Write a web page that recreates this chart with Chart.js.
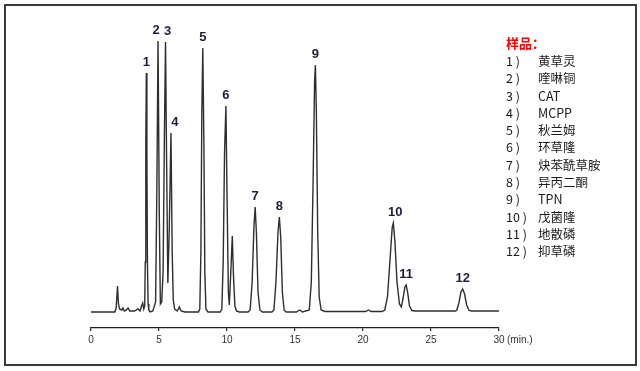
<!DOCTYPE html>
<html>
<head>
<meta charset="utf-8">
<script src="https://cdn.jsdelivr.net/npm/chart.js@4/dist/chart.umd.min.js"></script>
<style>
	body { margin: 0; background: #fff; }
	#wrap { position: relative; width: 640px; height: 371px; overflow: hidden; }
	#frame { position: absolute; left: 4px; top: 4px; width: 629px; height: 358px; border: 2px solid #3a3a3a; }
	#chart { position: absolute; left: 0; top: 0; }
	#samples { position: absolute; left: 506px; top: 33px; font-family: "Noto Sans CJK SC", sans-serif; font-size: 12.5px; color: #1a1a1a; }
	#samples .title { color: #f00; font-weight: bold; font-size: 13px; height: 19px; }
	#samples .row { position: relative; height: 17.3px; line-height: 17px; }
	#samples .name { position: absolute; left: 32px; top: 0; white-space: nowrap; }
</style>
</head>
<body>
<div id="wrap">
	<div id="frame"></div>
	<canvas id="chart" width="640" height="371"></canvas>
	<div id="samples"></div>
</div>
<script>
//保留时间 (min) 和 信号
const times = [0, 1.75, 1.85, 1.95, 2.02, 2.1, 2.25, 2.35, 2.45, 2.6, 2.72, 2.85, 3.2, 3.45, 3.6, 3.72, 3.8, 3.88, 3.95,
	3.99, 4.03, 4.07, 4.11, 4.15, 4.2, 4.25, 4.35, 4.55,
	4.75, 4.84, 4.93, 5.02, 5.1, 5.2,
	5.3, 5.4, 5.48, 5.56, 5.65,
	5.75, 5.88, 5.97, 6.05, 6.15, 6.35, 6.5, 6.62, 6.9, 7.9,
	8.0, 8.08, 8.15, 8.22, 8.3, 8.37, 8.45, 8.6, 9.5,
	9.62, 9.72, 9.82, 9.92, 10.0, 10.1, 10.17,
	10.28, 10.39, 10.48, 10.58, 10.7, 10.9, 11.55,
	11.7, 11.85, 11.98, 12.07, 12.16, 12.28, 12.42, 12.6, 13.3,
	13.45, 13.6, 13.75, 13.85, 13.95, 14.07, 14.2, 14.35, 15.1, 15.35, 15.55,
	16.05, 16.2, 16.33, 16.44, 16.5, 16.57, 16.67, 16.78, 16.92, 17.2, 20.2, 20.4, 20.6, 21.4,
	21.6, 21.8, 22.0, 22.15, 22.23, 22.35, 22.5, 22.68, 22.82,
	22.95, 23.08, 23.17, 23.28, 23.42, 23.6, 23.8, 26.8,
	26.9, 27.05, 27.2, 27.33, 27.47, 27.62, 27.8, 28.0, 30.0]
const signal = [0, 0, 4, 26, 8, 3, 2, 4, 1, 2, 4, 1, 1, 3, 1, 6, 9, 3, 6,
	50, 170, 239, 160, 50, 8, 2, 0, 1,
	10, 120, 271, 100, 8, 10,
	40, 180, 270, 150, 29,
	80, 179, 60, 12, 3, 1, 5, 1, 0, 0,
	3, 60, 200, 264, 170, 40, 3, 0, 0,
	3, 50, 160, 206, 120, 20, 7,
	40, 76, 35, 6, 1, 0, 0,
	2, 30, 85, 105, 80, 20, 2, 0, 0,
	2, 30, 80, 95, 75, 20, 2, 0, 0, 2, 0,
	2, 30, 130, 230, 247, 200, 80, 15, 2, 0.5, 0.5, 2, 0.5, 0.5,
	2, 15, 55, 85, 89, 70, 30, 8, 5,
	14, 25, 27, 20, 6, 1.5, 1, 1,
	2, 9, 20, 23, 18, 7, 1.5, 1, 1]

//峰号
const peakNames = ["1", "2", "3", "4", "5", "6", "7", "8", "9", "10", "11", "12"]
const peakTimes = [4.07, 4.93, 5.48, 5.88, 8.22, 9.92, 12.07, 13.85, 16.5, 22.23, 23.17, 27.33]
const peakHeights = [239, 271, 270, 179, 264, 206, 105, 95, 247, 89, 27, 23]

const xTicks = [0, 5, 10, 15, 20, 25, 30]
const xUnit = "(min.)"

//样品
const sampleTitle = "样品："
const sampleNums = ["1 )", "2 )", "3 )", "4 )", "5 )", "6 )", "7 )", "8 )", "9 )", "10 )", "11 )", "12 )"]
const sampleNames = ["黄草灵", "喹啉铜", "CAT", "MCPP", "秋兰姆", "环草隆", "炔苯酰草胺", "异丙二酮", "TPN", "戊菌隆", "地散磷", "抑草磷"]

const box = document.getElementById("samples")
const t = document.createElement("div")
t.className = "title"
t.textContent = sampleTitle
box.appendChild(t)
sampleNums.forEach((n, i) => {
	const row = document.createElement("div")
	row.className = "row"
	row.innerHTML = "<span>" + n + "</span><span class='name'>" + sampleNames[i] + "</span>"
	box.appendChild(row)
})

const points = times.map((x, i) => ({x: x, y: signal[i]}))

const labelDx = {"2": -2, "3": 2, "4": 4, "10": 2}

const peakLabelsPlugin = {
	id: "peakLabels",
	afterDatasetsDraw(chart){
		const ctx = chart.ctx
		const xs = chart.scales.x
		const ys = chart.scales.y
		ctx.save()
		ctx.font = "bold 13px 'Liberation Sans', Arial, sans-serif"
		ctx.fillStyle = "#1e1e3a"
		ctx.textAlign = "center"
		ctx.textBaseline = "middle"
		peakNames.forEach((p, i) => {
			const px = xs.getPixelForValue(peakTimes[i]) + (labelDx[p] || 0)
			const py = ys.getPixelForValue(peakHeights[i]) - 11
			ctx.fillText(p, px, py)
		})
		ctx.font = "10px 'Liberation Sans Narrow', 'Liberation Sans', Arial, sans-serif"
		ctx.fillStyle = "#333"
		ctx.textAlign = "left"
		ctx.fillText(xUnit, chart.chartArea.right + 8, 340)
		ctx.restore()
	}
}

new Chart("chart", {
	type: "line",
	data: {
		datasets: [{
			data: points,
			borderColor: "#2e2e2e",
			borderWidth: 1.4,
			pointRadius: 0,
			tension: 0
		}]
	},
	options: {
		responsive: false,
		animation: false,
		devicePixelRatio: 1,
		layout: { padding: { left: 91, right: 141, top: 30, bottom: 0 } },
		plugins: { legend: { display: false }, tooltip: { enabled: false } },
		scales: {
			x: {
				type: "linear",
				min: 0,
				max: 30,
				afterBuildTicks: (s) => { s.ticks = xTicks.map(v => ({value: v})) },
				afterFit: (s) => { s.height = 43 },
				ticks: {
					color: "#333",
					padding: 3,
					maxRotation: 0,
					font: { family: "'Liberation Sans Narrow', 'Liberation Sans', Arial", size: 10 }
				},
				grid: { drawOnChartArea: false, tickLength: 3, color: "#222", lineWidth: 1.2 },
				border: { color: "#222", width: 1.3 }
			},
			y: {
				display: false,
				min: -16,
				max: 282
			}
		}
	},
	plugins: [peakLabelsPlugin]
})
</script>
</body>
</html>
